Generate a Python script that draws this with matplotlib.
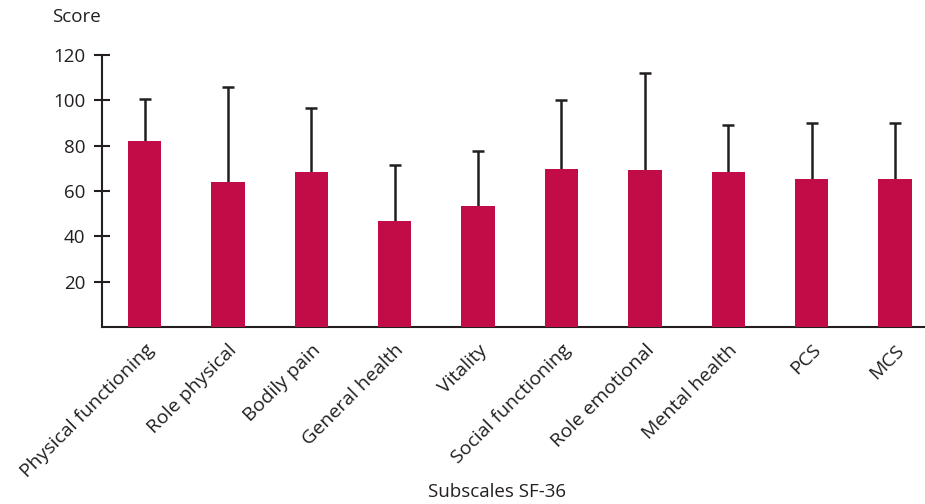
import matplotlib.pyplot as plt

categories = ['Physical functioning', 'Role physical', 'Bodily pain', 'General health',
              'Vitality', 'Social functioning', 'Role emotional', 'Mental health', 'PCS', 'MCS']
means = [82.0, 64.0, 68.4, 46.8, 53.4, 69.7, 69.3, 68.4, 65.3, 65.3]
sds = [18.4, 41.7, 28.1, 24.5, 24.4, 30.4, 42.6, 20.8, 24.8, 24.5]

bar_color = '#C20C48'
ink = '#231f20'

plt.rcParams['font.family'] = ['Open Sans', 'DejaVu Sans']

fig = plt.figure(figsize=(9.25, 5.04), dpi=100)
ax = fig.add_axes([0.110, 0.351, 0.890, 0.540])

x = range(len(categories))
# symmetric error bars drawn under the bars, so only the upper whisker shows
ax.errorbar(x, means, yerr=sds, fmt='none', ecolor=ink,
            elinewidth=1.8, capsize=4, capthick=1.8, zorder=2)
ax.bar(x, means, width=0.4, color=bar_color, zorder=3)

ax.set_xlim(-0.513, 9.36)
ax.set_ylim(0, 120)
ax.set_yticks([20, 40, 60, 80, 100, 120])
ax.tick_params(axis='y', direction='inout', length=12, width=1.5, color=ink,
               labelsize=13.5, labelcolor=ink, pad=6)
ax.set_xticks(list(x))
ax.set_xticklabels(categories, rotation=45, ha='right', va='top',
                   rotation_mode='anchor', fontsize=14, color=ink)
ax.tick_params(axis='x', length=0, pad=10)

for side in ['top', 'right']:
    ax.spines[side].set_visible(False)
for side in ['left', 'bottom']:
    ax.spines[side].set_color(ink)
    ax.spines[side].set_linewidth(1.5)

fig.text(0.0562, 0.966, 'Score', fontsize=13.5, color=ink, ha='left', va='center')
fig.text(0.537, 0.024, 'Subscales SF-36', fontsize=13.5, color=ink, ha='center', va='center')

fig.savefig('out.png', dpi=100)
